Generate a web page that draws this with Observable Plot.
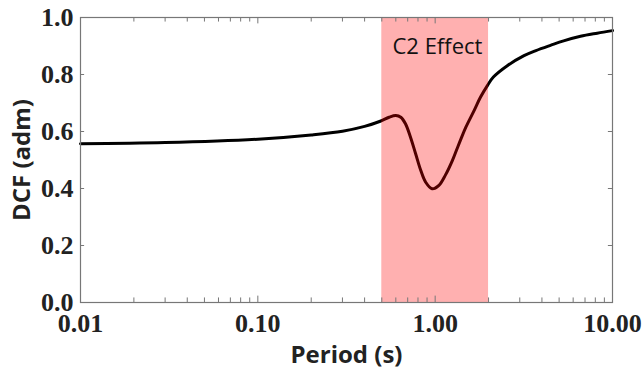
<!DOCTYPE html>
<html>
<head>
<meta charset="utf-8">
<script src="https://cdn.jsdelivr.net/npm/d3@7"></script>
<script src="https://cdn.jsdelivr.net/npm/@observablehq/plot@0.6"></script>
<style>
  html, body { margin: 0; padding: 0; background: #fff; }
</style>
</head>
<body>
<div id="chart"></div>
<script>
// Period (s) and DCF (adm)
const period = [0.01, 0.03, 0.1, 0.2, 0.3, 0.4, 0.49, 0.55, 0.60, 0.64, 0.68, 0.726, 0.776, 0.83, 0.884, 0.96, 1.05, 1.14, 1.25, 1.32, 1.40, 1.49, 1.66, 1.80, 1.97, 2.13, 2.54, 3.17, 3.7, 4.5, 5.3, 6.6, 8.2, 10];
const dcf    = [0.557, 0.561, 0.573, 0.588, 0.601, 0.618, 0.636, 0.650, 0.656, 0.650, 0.627, 0.580, 0.522, 0.463, 0.422, 0.399, 0.411, 0.446, 0.498, 0.535, 0.575, 0.615, 0.674, 0.720, 0.761, 0.791, 0.830, 0.866, 0.884, 0.903, 0.918, 0.934, 0.945, 0.954];

// C2 effect band
const bandStart = [0.5];
const bandEnd = [2.0];
const bandLabel = ["C2 Effect"];

// ticks
const xMajor = [0.01, 0.1, 1, 10];
const xMinor = [2,3,4,5,6,7,8,9].flatMap(m => [0.01, 0.1, 1].map(d => m * d));
const yTicks = [0, 0.2, 0.4, 0.6, 0.8, 1.0];

const curve = period.map((p, i) => ({period: p, dcf: dcf[i]}));
const band = bandStart.map((s, i) => ({x1: s, x2: bandEnd[i], label: bandLabel[i]}));

const tickColor = "#777";
const serif = "'Liberation Serif', 'Times New Roman', serif";
const sans = "'Open Sans', sans-serif";
// inward tick lengths expressed in scale units
const yTick = 0.016;          // ~4.5px of the y range
const xTickMinor = 1.055;     // ~4px in log space

const chart = Plot.plot({
  width: 643,
  height: 374,
  marginLeft: 80,
  marginRight: 31,
  marginTop: 17,
  marginBottom: 72,
  style: {fontFamily: serif, fontWeight: "bold", fontSize: "22px", color: "#222", background: "#fff"},
  x: {type: "log", domain: [0.01, 10], axis: null},
  y: {domain: [0, 1], axis: null},
  marks: [
    Plot.line(curve, {x: "period", y: "dcf", stroke: "#000", strokeWidth: 3, curve: "catmull-rom"}),
    Plot.rect(band, {x1: "x1", x2: "x2", y1: 0, y2: 1, fill: "#ff0000", fillOpacity: 0.31}),
    Plot.text(band, {x: d => Math.sqrt(d.x1 * d.x2) * 1.03, y: 0.895, text: "label", fontFamily: sans, fontWeight: "normal", fontSize: 22, fill: "#111"}),
    Plot.frame({stroke: tickColor, strokeWidth: 1.2}),
    // inward ticks: bottom/top
    Plot.ruleX(xMajor, {y1: 0, y2: yTick * 1.4, stroke: tickColor}),
    Plot.ruleX(xMinor, {y1: 0, y2: yTick, stroke: tickColor}),
    Plot.ruleX(xMajor, {y1: 1 - yTick * 1.4, y2: 1, stroke: tickColor}),
    Plot.ruleX(xMinor, {y1: 1 - yTick, y2: 1, stroke: tickColor}),
    // inward ticks: left/right
    Plot.ruleY(yTicks, {x1: 0.01, x2: 0.01 * xTickMinor, stroke: tickColor}),
    Plot.ruleY(yTicks, {x1: 10 / xTickMinor, x2: 10, stroke: tickColor}),
    // tick labels
    Plot.text(xMajor, {x: d => d, frameAnchor: "bottom", lineAnchor: "middle", dy: 21, text: d3.format(".2f"), fontFamily: serif, fontWeight: "bold", fontSize: 26, fill: "#222"}),
    Plot.text(yTicks, {y: d => d, frameAnchor: "left", lineAnchor: "middle", dx: -7, textAnchor: "end", text: d3.format(".1f"), fontFamily: serif, fontWeight: "bold", fontSize: 26, fill: "#222"}),
    // axis titles
    Plot.text(["Period (s)"], {frameAnchor: "bottom", lineAnchor: "middle", textAnchor: "middle", dy: 53, text: d => d, fontFamily: sans, fontWeight: "bold", fontSize: 24, fill: "#222"}),
    Plot.text(["DCF (adm)"], {frameAnchor: "left", lineAnchor: "middle", textAnchor: "middle", dx: -58, rotate: -90, text: d => d, fontFamily: sans, fontWeight: "bold", fontSize: 24, fill: "#222"})
  ]
});
document.getElementById("chart").appendChild(chart);
</script>
</body>
</html>
